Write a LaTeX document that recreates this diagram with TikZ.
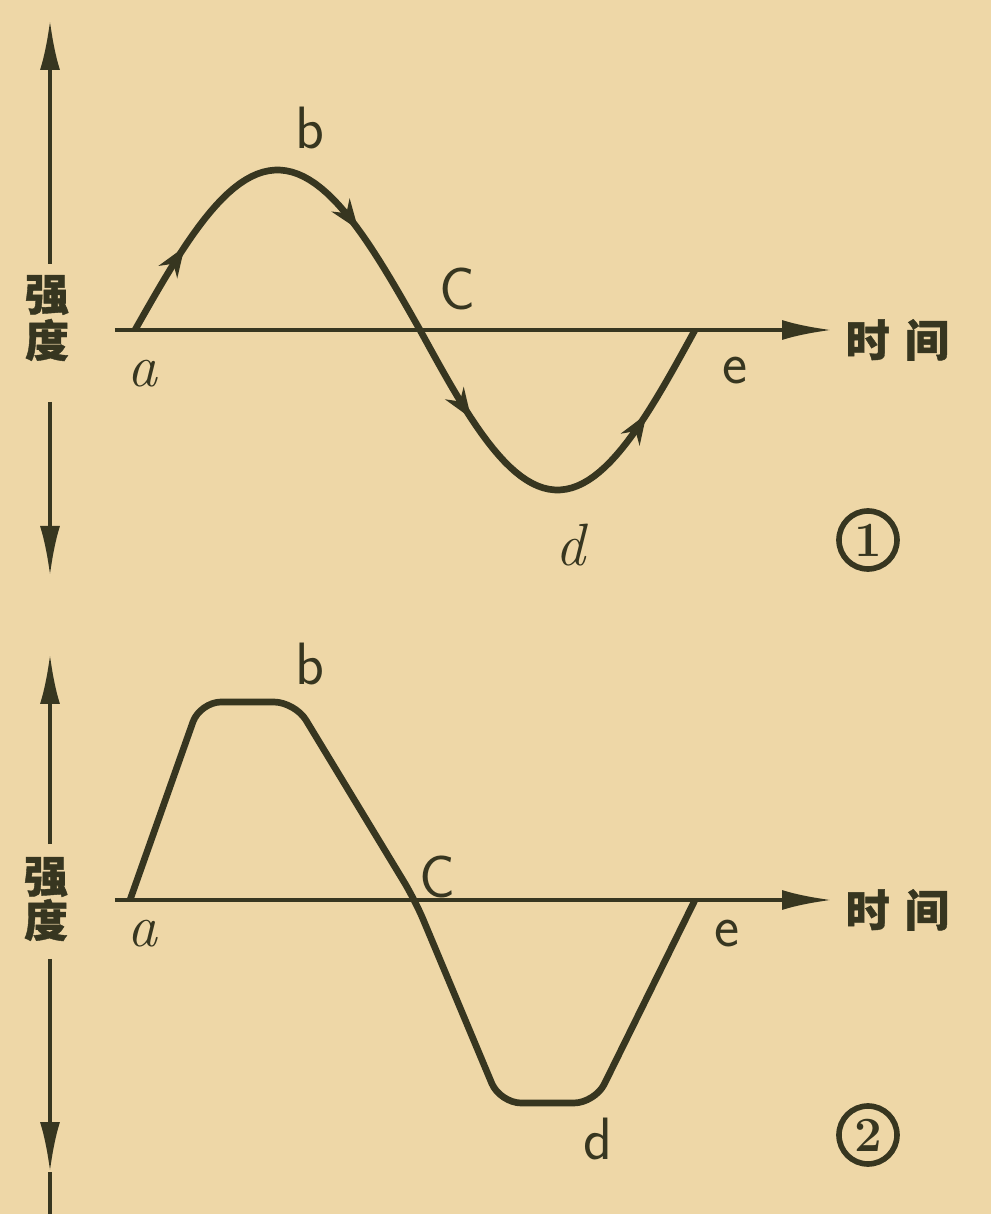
\documentclass[tikz,border=0pt]{standalone}
\usepackage{fontspec}
\usepackage{xcolor}
\usepackage{tikz}
\usetikzlibrary{arrows.meta,decorations.markings}
\newfontfamily\cjk[FakeBold=0.9]{Noto Sans CJK SC}
\definecolor{paper}{RGB}{238,215,167}
\definecolor{ink}{RGB}{55,54,32}

\begin{document}
\begin{tikzpicture}[
    axis/.style={
        draw=ink,
        line width=1.2pt,
        -{Latex[length=5mm,width=2mm]}
    },
    wave/.style={
        draw=ink,
        line width=1.9pt,
        line join=round
    },
    flowmarks/.style={
        postaction={decorate},
        decoration={markings,
            mark=at position 0.11 with {\arrow{Stealth[length=3mm,width=2.2mm]}},
            mark=at position 0.37 with {\arrow{Stealth[length=3mm,width=2.2mm]}},
            mark=at position 0.62 with {\arrow{Stealth[length=3mm,width=2.2mm]}},
            mark=at position 0.89 with {\arrow{Stealth[length=3mm,width=2.2mm]}}}
    },
    pt/.style={text=ink, font=\fontsize{17}{19}\selectfont\sffamily, inner sep=1pt},
    ptit/.style={text=ink, font=\fontsize{17}{19}\selectfont\itshape, inner sep=1pt},
    hanzi/.style={text=ink, font=\cjk\bfseries\fontsize{12.5}{14}\selectfont, inner sep=0pt},
    tag/.style={circle, draw=ink, line width=1.6pt, text=ink, minimum size=0.58cm,
        inner sep=0pt, font=\fontsize{14}{14}\selectfont\bfseries}
]
\useasboundingbox[fill=paper] (0,0) rectangle (9.91,12.14);

% ---- figure 1 ----
\coordinate (a1) at (1.35,8.84);
\coordinate (c1) at (4.20,8.84);
\coordinate (e1) at (6.95,8.84);
\coordinate (o1) at (1.15,8.84);
\coordinate (x1) at (8.32,8.84);
\coordinate (up1s) at (0.5,9.50);
\coordinate (up1) at (0.5,11.94);
\coordinate (dn1s) at (0.5,8.12);
\coordinate (dn1) at (0.5,6.38);

\draw[axis] (up1s) -- (up1);
\draw[axis] (dn1s) -- (dn1);
\draw[axis] (o1) -- (x1);
\node[hanzi] (qiang1) at (0.47,9.19) {强};
\node[hanzi] (du1) at (0.47,8.74) {度};
\node[hanzi, anchor=west] (time1) at (8.45,8.74) {时\hspace{0.35em}间};

\draw[wave, flowmarks]
    plot[domain=0:180, samples=50] ({1.35+2.85*\x/180},{8.84+1.6*sin(\x)})
    -- plot[domain=180:360, samples=50] ({4.20+2.75*(\x-180)/180},{8.84+1.6*sin(\x)});

\node[ptit] (la1) at (1.42,8.40) {a};
\node[pt] (lb1) at (3.10,10.86) {b};
\node[pt] (lc1) at (4.57,9.25) {C};
\node[ptit] (ld1) at (5.70,6.69) {d};
\node[pt] (le1) at (7.35,8.43) {e};
\node[tag] (n1) at (8.68,6.74) {1};

% ---- figure 2 ----
\coordinate (a2) at (1.30,3.14);
\coordinate (b2l) at (2.00,5.12);
\coordinate (b2r) at (2.95,5.12);
\coordinate (c2) at (4.15,3.14);
\coordinate (d2l) at (5.00,1.11);
\coordinate (d2r) at (5.95,1.11);
\coordinate (e2) at (6.95,3.14);
\coordinate (o2) at (1.15,3.14);
\coordinate (x2) at (8.32,3.14);
\coordinate (up2s) at (0.5,3.70);
\coordinate (up2) at (0.5,5.60);
\coordinate (dn2s) at (0.5,2.55);
\coordinate (dn2) at (0.5,0.42);
\coordinate (dn2e) at (0.5,0);

\draw[axis] (up2s) -- (up2);
\draw[axis] (dn2s) -- (dn2);
\draw[draw=ink, line width=1.2pt] (dn2) -- (dn2e);
\draw[axis] (o2) -- (x2);
\node[hanzi] (qiang2) at (0.46,3.37) {强};
\node[hanzi] (du2) at (0.46,2.94) {度};
\node[hanzi, anchor=west] (time2) at (8.45,3.04) {时\hspace{0.35em}间};

\draw[wave, rounded corners=6pt]
    (a2) -- (b2l) -- (b2r) -- (c2) -- (d2l) -- (d2r) -- (e2);

\node[ptit] (la2) at (1.42,2.80) {a};
\node[pt] (lb2) at (3.10,5.50) {b};
\node[pt] (lc2) at (4.37,3.37) {C};
\node[pt] (ld2) at (5.98,0.75) {d};
\node[pt] (le2) at (7.27,2.80) {e};
\node[tag] (n2) at (8.68,0.79) {2};

\end{tikzpicture}
\end{document}
